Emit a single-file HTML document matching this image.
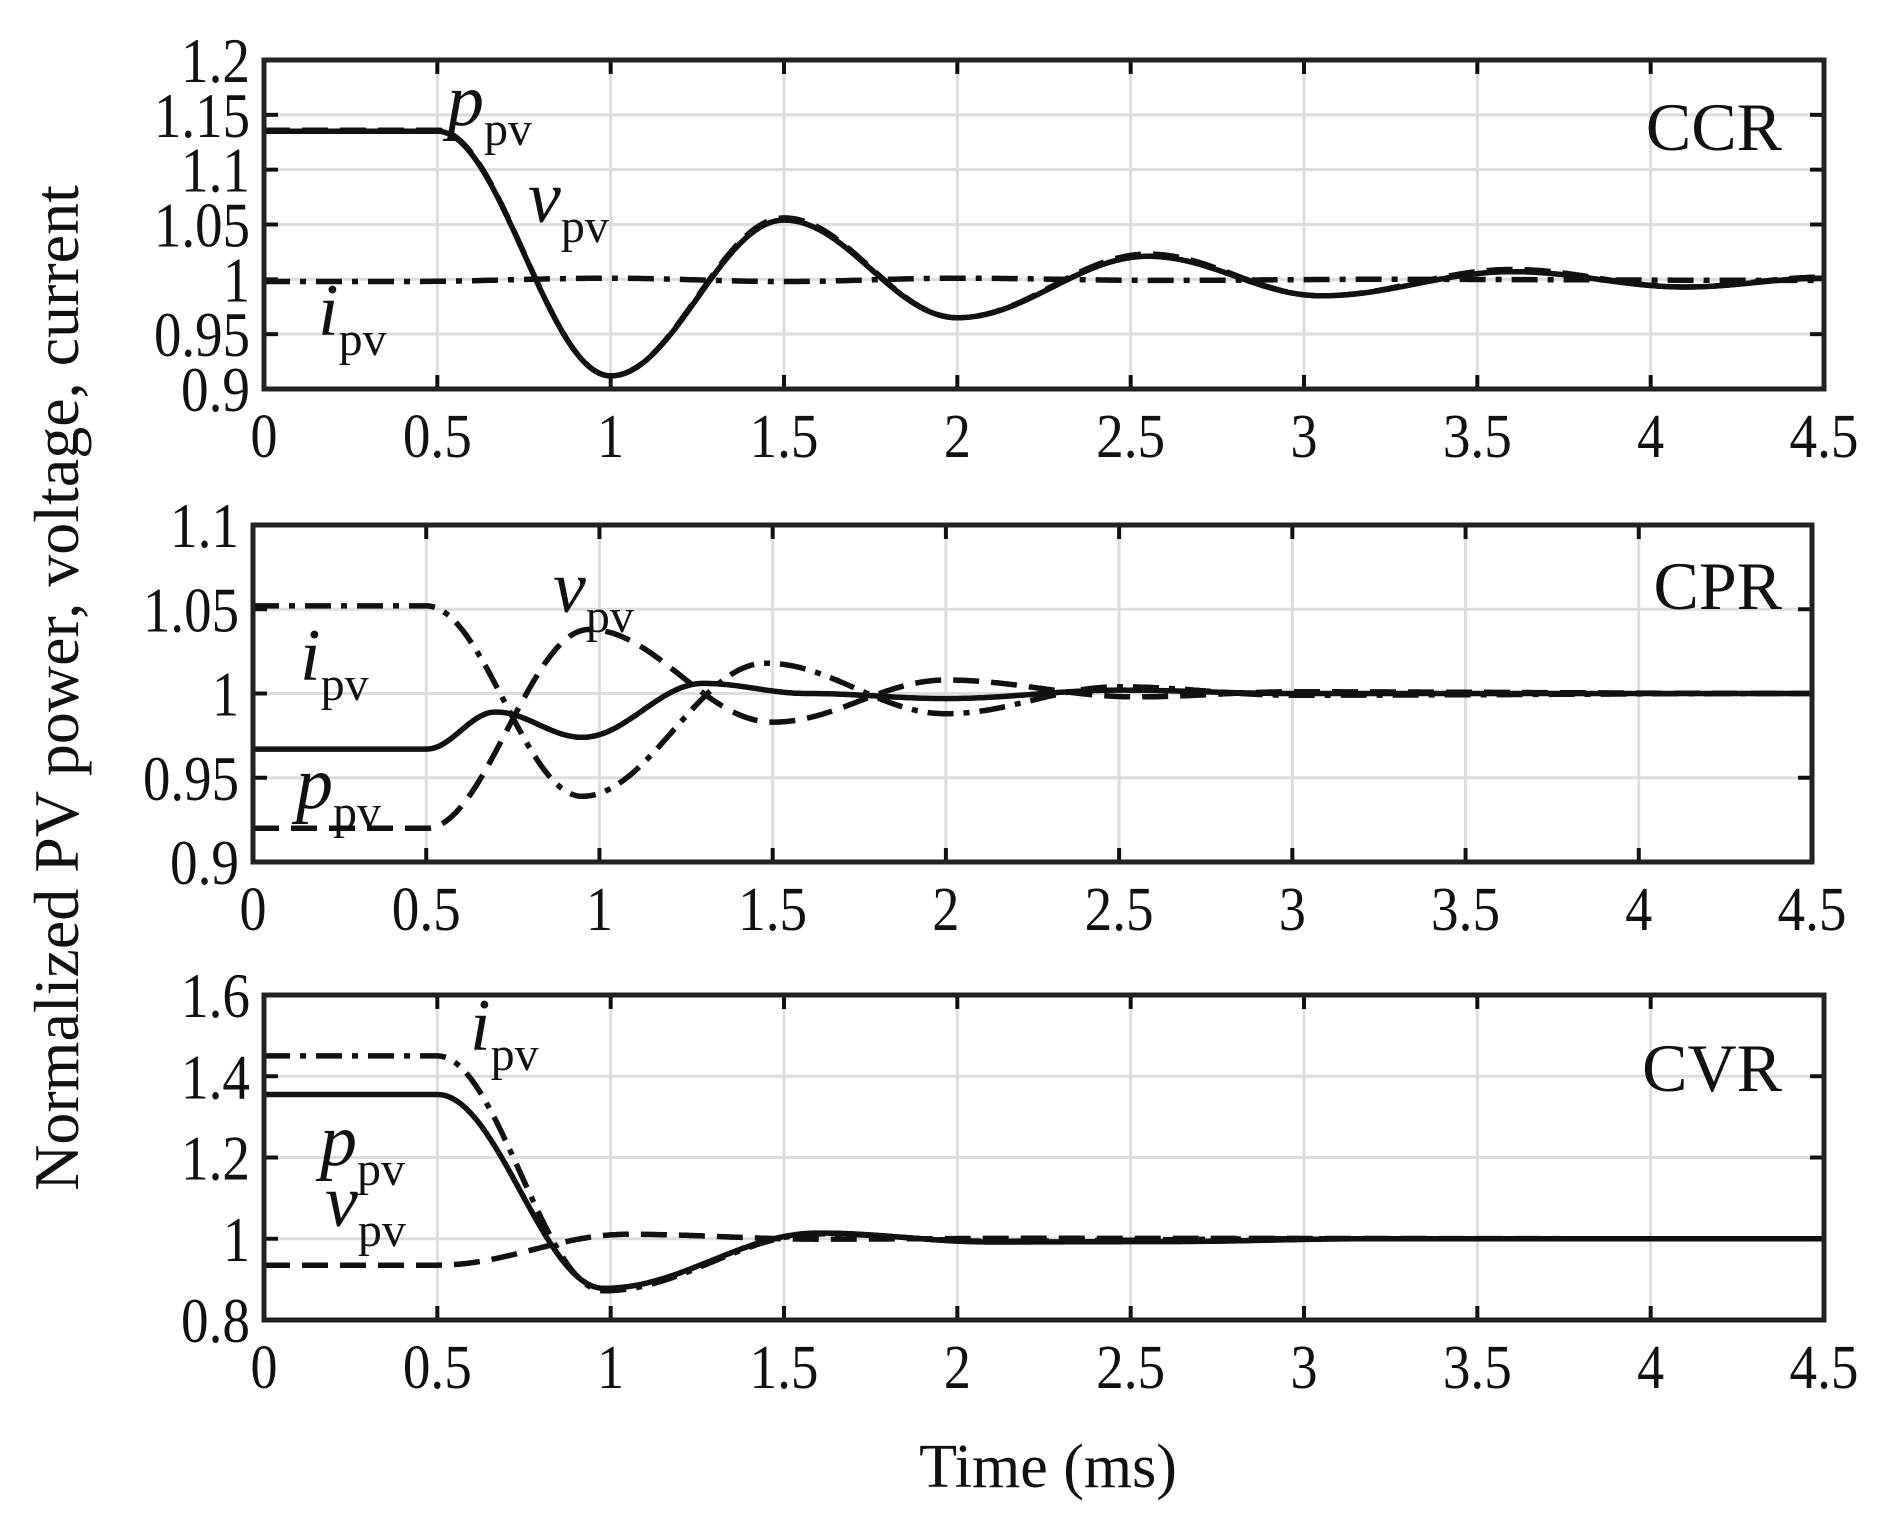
<!DOCTYPE html>
<html><head><meta charset="utf-8">
<style>
html,body{margin:0;padding:0;background:#fff;}
svg{display:block;}
text{font-family:"Liberation Serif",serif;fill:#111;}
</style></head>
<body>
<svg id="s" width="1883" height="1529" xmlns="http://www.w3.org/2000/svg"></svg>
<script>
const S=document.getElementById('s');
let h='';
const panels=[
 {x0:264,x1:1824,y0:60,y1:389,vmin:0.9,vmax:1.2,ticks:[0.9,0.95,1,1.05,1.1,1.15,1.2],labs:['0.9','0.95','1','1.05','1.1','1.15','1.2'],name:'CCR',nb:150,
  series:[
   {k:[[0,1.136],[0.5,1.136],[1.0,0.912],[1.5,1.056],[2.0,0.965],[2.55,1.023],[3.05,0.985],[3.6,1.009],[4.1,0.993],[4.5,1.002]],st:'dash'},
   {k:[[0,1.135],[0.5,1.135],[1.0,0.912],[1.5,1.054],[2.0,0.965],[2.55,1.021],[3.05,0.985],[3.6,1.007],[4.1,0.993],[4.5,1.001]],st:'solid'},
   {k:[[0,0.998],[0.4,0.998],[1.0,1.001],[1.5,0.998],[2.0,1.001],[2.6,0.999],[3.2,1.0],[4.5,0.999]],st:'dashdot'}
  ],
  lbl:[['p',447,125],['v',528,222],['i',318,335]]},
 {x0:253,x1:1812,y0:525,y1:862,vmin:0.9,vmax:1.1,ticks:[0.9,0.95,1,1.05,1.1],labs:['0.9','0.95','1','1.05','1.1'],name:'CPR',nb:609,
  series:[
   {k:[[0,0.967],[0.5,0.967],[0.7,0.989],[0.95,0.974],[1.3,1.006],[1.6,1.0],[2.0,0.997],[2.5,1.002],[3.0,1.0],[4.5,1.0]],st:'solid'},
   {k:[[0,0.92],[0.5,0.92],[0.97,1.038],[1.5,0.983],[2.0,1.008],[2.55,0.998],[3.0,1.001],[4.5,1.0]],st:'dash'},
   {k:[[0,1.052],[0.5,1.052],[0.95,0.939],[1.48,1.018],[2.0,0.988],[2.5,1.004],[3.0,0.999],[4.5,1.0]],st:'dashdot'}
  ],
  lbl:[['v',553,612],['i',300,680],['p',296,808]]},
 {x0:264,x1:1824,y0:995,y1:1320,vmin:0.8,vmax:1.6,ticks:[0.8,1,1.2,1.4,1.6],labs:['0.8','1','1.2','1.4','1.6'],name:'CVR',nb:1091,
  series:[
   {k:[[0,1.355],[0.5,1.355],[0.98,0.878],[1.6,1.014],[2.1,0.992],[2.6,0.993],[3.2,1.0],[4.5,1.0]],st:'solid'},
   {k:[[0,1.45],[0.5,1.45],[0.98,0.872],[1.6,1.012],[2.1,0.994],[3.0,1.0],[4.5,1.0]],st:'dashdot'},
   {k:[[0,0.935],[0.5,0.935],[1.05,1.011],[1.6,0.999],[2.2,1.001],[4.5,1.0]],st:'dash'}
  ],
  lbl:[['i',470,1050],['p',320,1165],['v',325,1226]]}
];
function interp(k,t){
 for(let i=0;i<k.length-1;i++){
  if(t>=k[i][0]&&t<=k[i+1][0]){
   const u=(t-k[i][0])/(k[i+1][0]-k[i][0]);
   const w=(1-Math.cos(Math.PI*u))/2;
   return k[i][1]+(k[i+1][1]-k[i][1])*w;
  }
 }
 return k[k.length-1][1];
}
function tl(s){let n=0;for(const c of s)n+=(c==='.'?15:27);return n;}
const xl=[0,0.5,1,1.5,2,2.5,3,3.5,4,4.5];
const xlab=['0','0.5','1','1.5','2','2.5','3','3.5','4','4.5'];
panels.forEach(P=>{
 const X=t=>P.x0+(P.x1-P.x0)*t/4.5;
 const Y=v=>P.y1-(P.y1-P.y0)*(v-P.vmin)/(P.vmax-P.vmin);
 xl.forEach(t=>{h+=`<line x1="${X(t)}" y1="${P.y0}" x2="${X(t)}" y2="${P.y1}" stroke="#ddd" stroke-width="3"/>`;});
 P.ticks.forEach(v=>{h+=`<line x1="${P.x0}" y1="${Y(v)}" x2="${P.x1}" y2="${Y(v)}" stroke="#ddd" stroke-width="3"/>`;});
 P.series.forEach(s=>{
  let d='';
  for(let i=0;i<=900;i++){const t=4.5*i/900;d+=(i?'L':'M')+X(t).toFixed(1)+','+Y(interp(s.k,t)).toFixed(1);}
  let da=s.st==='dash'?'stroke-dasharray="26 12"':s.st==='dashdot'?'stroke-dasharray="26 10 6 10"':'';
  h+=`<path d="${d}" fill="none" stroke="#111" stroke-width="5.5" ${da}/>`;
 });
 xl.forEach(t=>{h+=`<line x1="${X(t)}" y1="${P.y1}" x2="${X(t)}" y2="${P.y1-14}" stroke="#111" stroke-width="4"/><line x1="${X(t)}" y1="${P.y0}" x2="${X(t)}" y2="${P.y0+14}" stroke="#111" stroke-width="4"/>`;});
 P.ticks.forEach(v=>{h+=`<line x1="${P.x0}" y1="${Y(v)}" x2="${P.x0+14}" y2="${Y(v)}" stroke="#111" stroke-width="4"/><line x1="${P.x1}" y1="${Y(v)}" x2="${P.x1-14}" y2="${Y(v)}" stroke="#111" stroke-width="4"/>`;});
 h+=`<rect x="${P.x0}" y="${P.y0}" width="${P.x1-P.x0}" height="${P.y1-P.y0}" fill="none" stroke="#222" stroke-width="5"/>`;
 P.ticks.forEach((v,i)=>{h+=`<text x="${P.x0-14}" y="${Y(v)+22}" font-size="64" text-anchor="end" textLength="${tl(P.labs[i])}" lengthAdjust="spacingAndGlyphs">${P.labs[i]}</text>`;});
 xl.forEach((t,i)=>{h+=`<text x="${X(t)-tl(xlab[i])/2}" y="${P.y1+68}" font-size="62" textLength="${tl(xlab[i])}" lengthAdjust="spacingAndGlyphs">${xlab[i]}</text>`;});
 h+=`<text x="1782" y="${P.nb}" font-size="68" text-anchor="end">${P.name}</text>`;
 P.lbl.forEach(l=>{h+=`<text x="${l[1]}" y="${l[2]}" font-size="74" font-style="italic">${l[0]}<tspan font-size="48" font-style="normal" dy="20">pv</tspan></text>`;});
});
h+=`<text x="1048" y="1487" font-size="62" text-anchor="middle">Time (ms)</text>`;
h+=`<text transform="translate(78,688) rotate(-90)" font-size="64" text-anchor="middle">Normalized PV power, voltage, current</text>`;
S.innerHTML=h;
</script>
</body></html>
